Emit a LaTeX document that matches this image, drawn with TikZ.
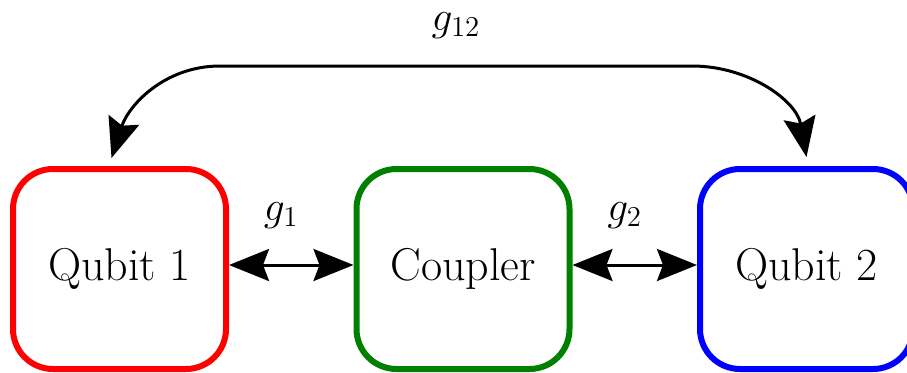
\documentclass[tikz,border=0pt]{standalone}
\usepackage{tikz}
\usetikzlibrary{positioning,arrows.meta}
\tikzstyle{qbox} = [draw,rectangle,rounded corners=20pt,line width=3pt,minimum width=106.5pt,minimum height=100pt,font=\fontsize{23}{28}\selectfont]
\tikzstyle{link} = [draw,line width=1.5pt,{Stealth[length=20pt,width=16pt,inset=3pt]}-{Stealth[length=20pt,width=16pt,inset=3pt]}]

\begin{document}
\begin{tikzpicture}[auto,node distance=62.25pt]
           \useasboundingbox (0,0) rectangle (453.5pt,186pt);
           \node[qbox, draw=red] (qubit1) at (59.75pt,51.5pt) {Qubit 1};
           \node[qbox, draw=green!50!black] (coupler1) [right = of qubit1] {Coupler};
           \node[qbox, draw=blue] (qubit2) [right = of coupler1] {Qubit 2};
           \path[link] ([yshift=2pt]qubit1.east) -- node[above=14pt, xshift=-5pt, font=\huge] (g1) {$g_1$} ([yshift=2pt]coupler1.west);
           \path[link] ([yshift=2pt]coupler1.east) -- node[above=14pt, xshift=-5pt, font=\huge] (g2) {$g_2$} ([yshift=2pt]qubit2.west);
           \coordinate (bendl) at (110pt,153pt);
           \coordinate (bendr) at (346pt,153pt);
           \path[link] ([xshift=-4pt,yshift=4pt]qubit1.north) to[out=72,in=180] (bendl) -- node[above=9.5pt, font=\huge] (g12) {$g_{12}$} (bendr) to[out=0,in=100] ([yshift=4.5pt]qubit2.north);
        \end{tikzpicture}
\end{document}
